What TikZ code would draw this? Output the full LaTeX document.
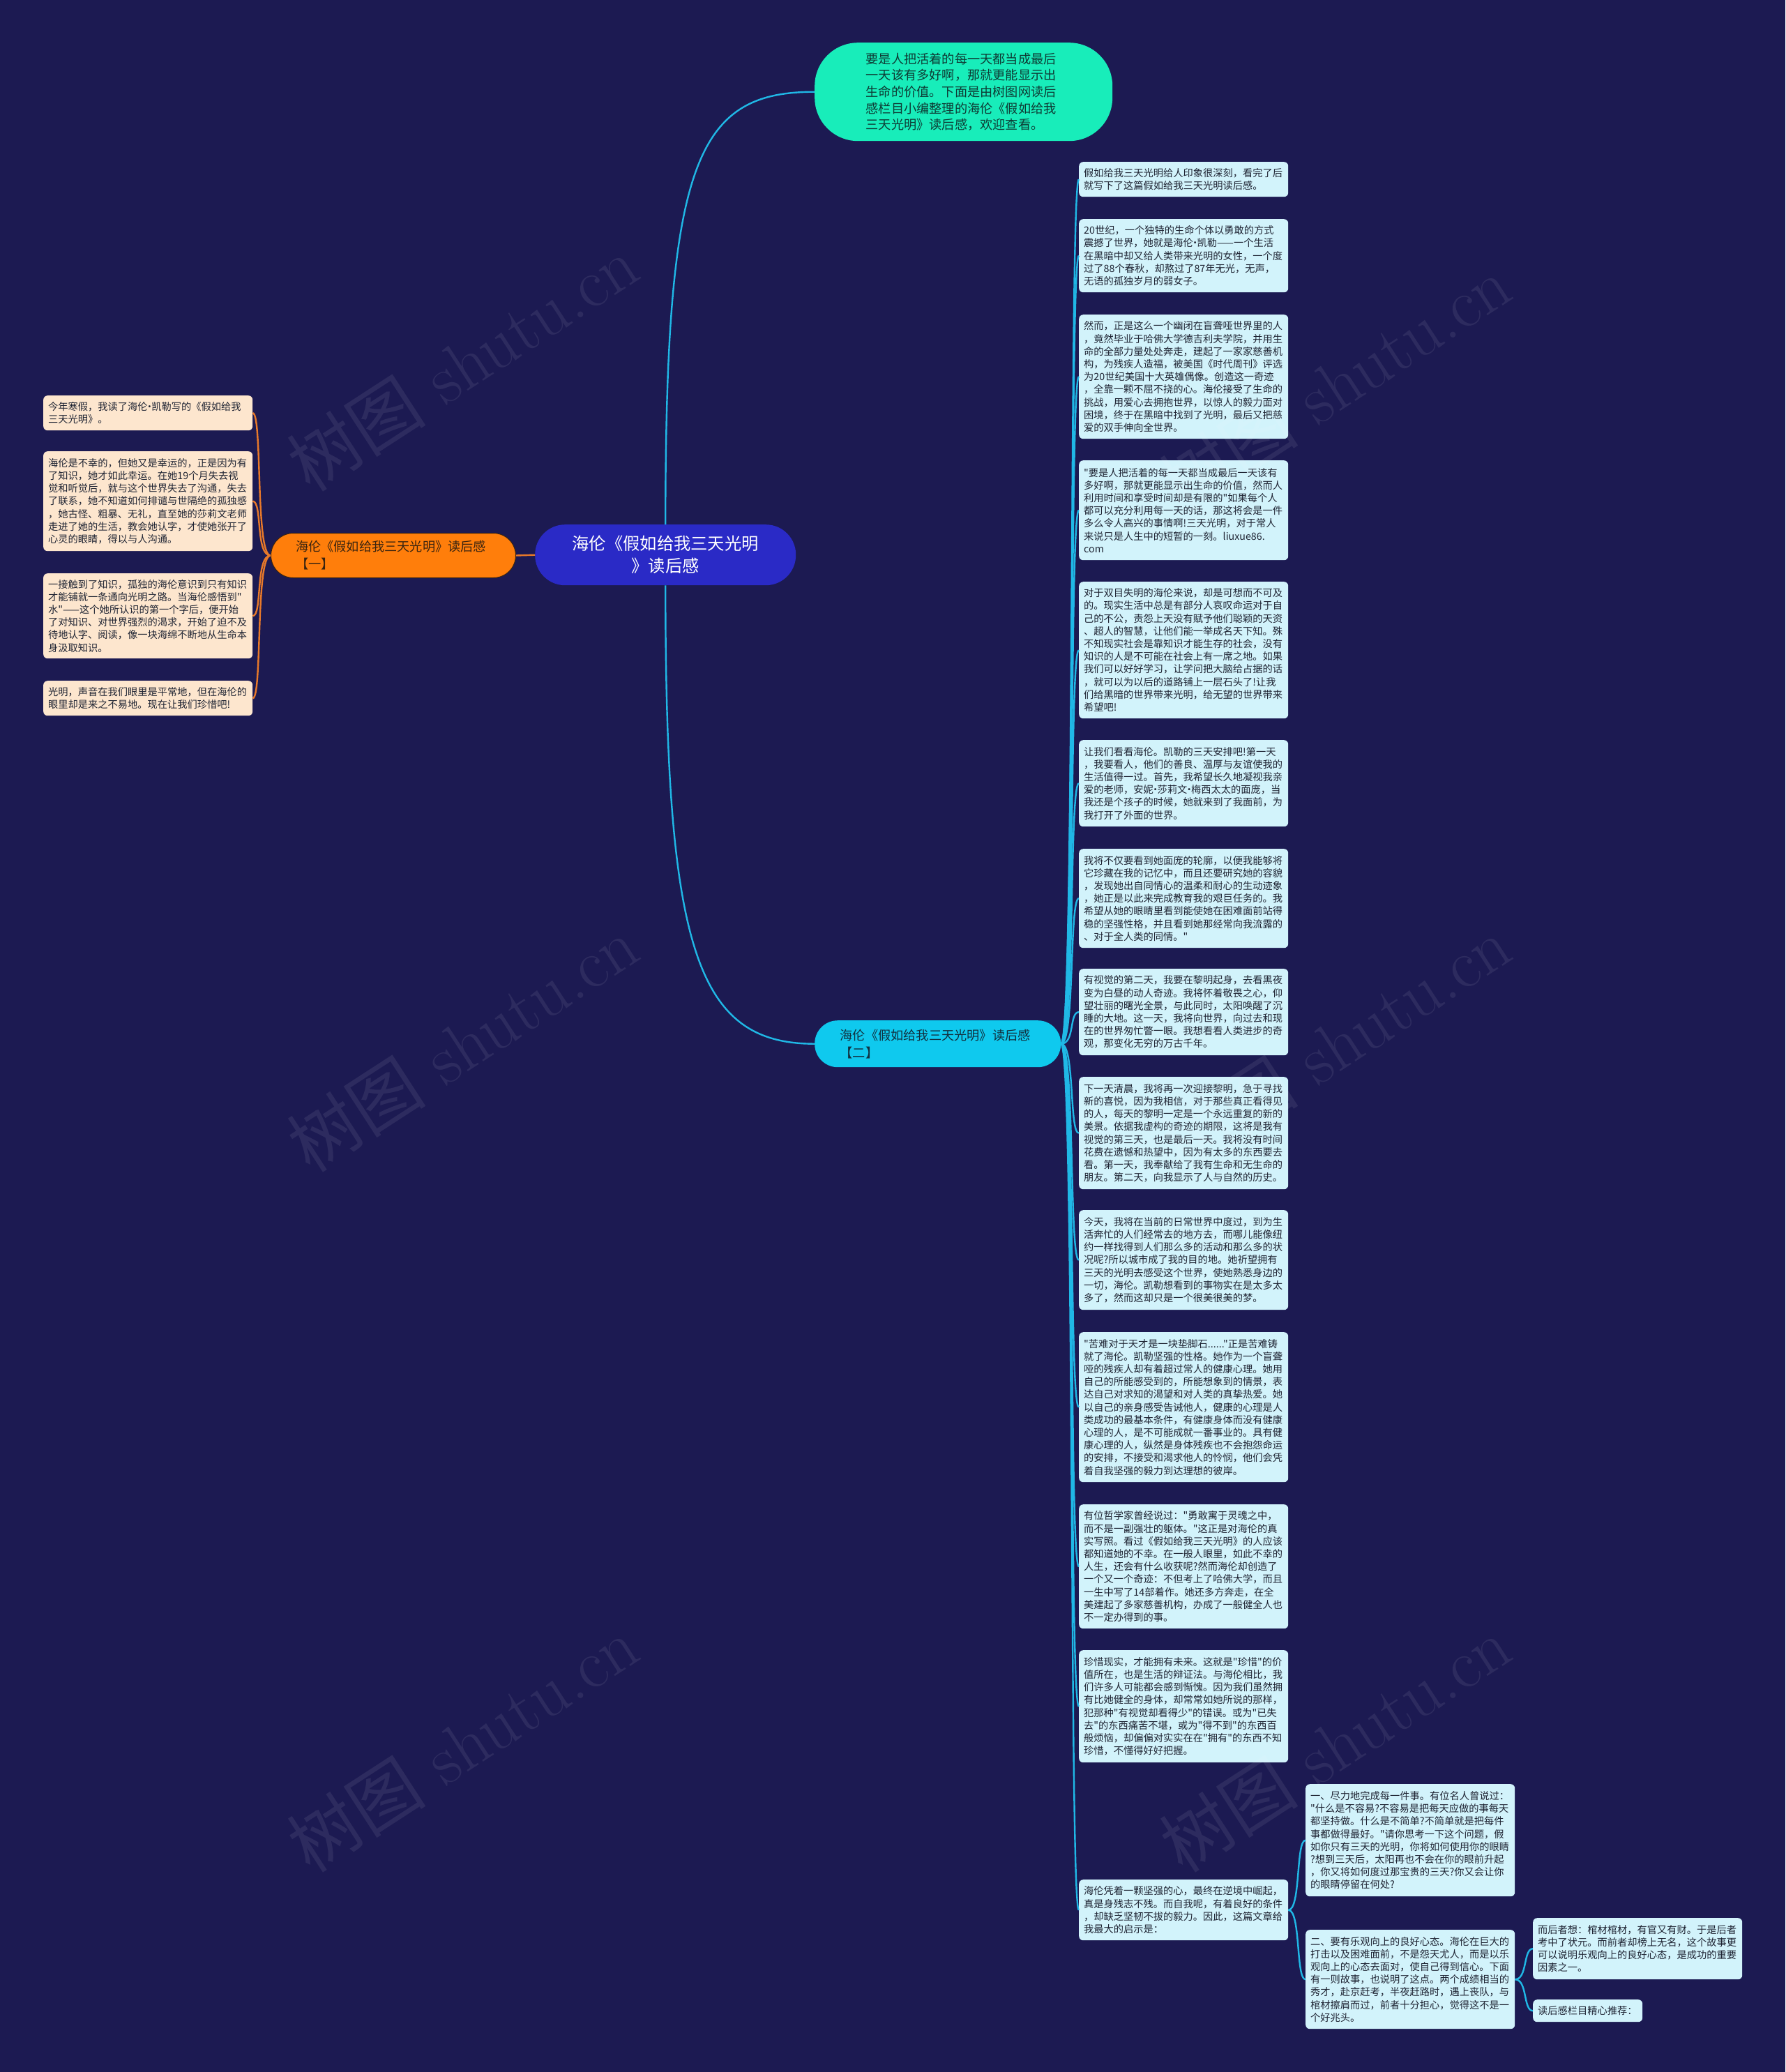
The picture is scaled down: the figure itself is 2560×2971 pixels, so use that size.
\documentclass[tikz,border=0pt]{standalone}
\usepackage{fontspec}
\newfontfamily\cjk{Noto Sans CJK SC}
\newcommand\mdot{\makebox[0.4em]{·}}
\definecolor{bg}{HTML}{1C1A52}
\definecolor{rfill}{HTML}{D2F3FB}
\definecolor{lfill}{HTML}{FDE6CE}
\definecolor{boxtext}{HTML}{1F2433}
\definecolor{linecyan}{HTML}{20B8E6}
\definecolor{lineorange}{HTML}{E8792A}
\definecolor{topfill}{HTML}{18EDBA}
\definecolor{toptext}{HTML}{0E3B34}
\definecolor{rootfill}{HTML}{2A2AC6}
\definecolor{orfill}{HTML}{FF7E0B}
\definecolor{ortext}{HTML}{3A2410}
\definecolor{cyfill}{HTML}{0FC9EE}
\definecolor{cytext}{HTML}{12303F}
\tikzset{
  rbox/.style={fill=rfill, rounded corners=6pt, anchor=north west, inner xsep=7pt, inner ysep=0pt,
    text width=286pt, align=left, text=boxtext, font=\cjk\fontsize{14.25}{18.2}\selectfont},
  lbox/.style={rbox, fill=lfill},
  cline/.style={draw=linecyan, line width=2.4pt},
  oline/.style={draw=lineorange, line width=2.4pt},
  wm/.style={text=white, opacity=0.08, font=\fontsize{100}{110}\selectfont, rotate=33},
}
\begin{document}
\begin{tikzpicture}[x=1pt,y=-1pt]
\useasboundingbox (0,0) rectangle (2560,2971);
\fill[bg] (0,0) rectangle (2560,2971);

% main nodes
\node[fill=topfill, rounded corners=62pt, anchor=north west, minimum width=427pt, minimum height=141pt,
  text width=280pt, align=left, text=toptext, font=\cjk\fontsize{18.2}{23.7}\selectfont, inner sep=0pt]
  (top) at (1168,61) {要是人把活着的每一天都当成最后\\一天该有多好啊，那就更能显示出\\生命的价值。下面是由树图网读后\\感栏目小编整理的海伦《假如给我\\三天光明》读后感，欢迎查看。};

\node[fill=rootfill, rounded corners=43pt, anchor=north west, minimum width=374pt, minimum height=87pt,
  align=center, text=white, font=\cjk\fontsize{24.3}{32}\selectfont, inner sep=0pt]
  (root) at (767,752) {海伦《假如给我三天光明\\》读后感};

\node[fill=orfill, draw=ortext, line width=1pt, rounded corners=32pt, anchor=north west, minimum width=351pt, minimum height=64pt,
  text width=280pt, align=left, text=ortext, font=\cjk\fontsize{18.2}{25}\selectfont, inner sep=0pt]
  (n1) at (388,764) {海伦《假如给我三天光明》读后感\\【一】};

\node[fill=cyfill, rounded corners=33pt, anchor=north west, minimum width=353pt, minimum height=67pt,
  text width=280pt, align=left, text=cytext, font=\cjk\fontsize{18.2}{25}\selectfont, inner sep=0pt]
  (n2) at (1168,1463) {海伦《假如给我三天光明》读后感\\【二】};

% left column
\node[lbox, minimum height=50pt] (l1) at (62,567) {今年寒假，我读了海伦\mdot 凯勒写的《假如给我\\三天光明》。};
\node[lbox, minimum height=143pt] (l2) at (62,647) {海伦是不幸的，但她又是幸运的，正是因为有\\了知识，她才如此幸运。在她19个月失去视\\觉和听觉后，就与这个世界失去了沟通，失去\\了联系，她不知道如何排谴与世隔绝的孤独感\\，她古怪、粗暴、无礼，直至她的莎莉文老师\\走进了她的生活，教会她认字，才使她张开了\\心灵的眼睛，得以与人沟通。};
\node[lbox, minimum height=122pt] (l3) at (62,822) {一接触到了知识，孤独的海伦意识到只有知识\\才能铺就一条通向光明之路。当海伦感悟到"\\水"——这个她所认识的第一个字后，便开始\\了对知识、对世界强烈的渴求，开始了迫不及\\待地认字、阅读，像一块海绵不断地从生命本\\身汲取知识。};
\node[lbox, minimum height=50pt] (l4) at (62,976) {光明，声音在我们眼里是平常地，但在海伦的\\眼里却是来之不易地。现在让我们珍惜吧!};

% right column
\node[rbox, minimum height=50pt] (r1) at (1547,232) {假如给我三天光明给人印象很深刻，看完了后\\就写下了这篇假如给我三天光明读后感。};
\node[rbox, minimum height=105pt] (r2) at (1547,314) {20世纪，一个独特的生命个体以勇敢的方式\\震撼了世界，她就是海伦\mdot 凯勒——一个生活\\在黑暗中却又给人类带来光明的女性，一个度\\过了88个春秋，却熬过了87年无光，无声，\\无语的孤独岁月的弱女子。};
\node[rbox, minimum height=178pt] (r3) at (1547,451) {然而，正是这么一个幽闭在盲聋哑世界里的人\\，竟然毕业于哈佛大学德吉利夫学院，并用生\\命的全部力量处处奔走，建起了一家家慈善机\\构，为残疾人造福，被美国《时代周刊》评选\\为20世纪美国十大英雄偶像。创造这一奇迹\\，全靠一颗不屈不挠的心。海伦接受了生命的\\挑战，用爱心去拥抱世界，以惊人的毅力面对\\困境，终于在黑暗中找到了光明，最后又把慈\\爱的双手伸向全世界。};
\node[rbox, minimum height=143pt] (r4) at (1547,660) {"要是人把活着的每一天都当成最后一天该有\\多好啊，那就更能显示出生命的价值，然而人\\利用时间和享受时间却是有限的"如果每个人\\都可以充分利用每一天的话，那这将会是一件\\多么令人高兴的事情啊!三天光明，对于常人\\来说只是人生中的短暂的一刻。liuxue86.\\com};
\node[rbox, minimum height=196pt] (r5) at (1547,834) {对于双目失明的海伦来说，却是可想而不可及\\的。现实生活中总是有部分人哀叹命运对于自\\己的不公，责怨上天没有赋予他们聪颖的天资\\、超人的智慧，让他们能一举成名天下知。殊\\不知现实社会是靠知识才能生存的社会，没有\\知识的人是不可能在社会上有一席之地。如果\\我们可以好好学习，让学问把大脑给占据的话\\，就可以为以后的道路铺上一层石头了!让我\\们给黑暗的世界带来光明，给无望的世界带来\\希望吧!};
\node[rbox, minimum height=124pt] (r6) at (1547,1061) {让我们看看海伦。凯勒的三天安排吧!第一天\\，我要看人，他们的善良、温厚与友谊使我的\\生活值得一过。首先，我希望长久地凝视我亲\\爱的老师，安妮\mdot 莎莉文\mdot 梅西太太的面庞，当\\我还是个孩子的时候，她就来到了我面前，为\\我打开了外面的世界。};
\node[rbox, minimum height=142pt] (r7) at (1547,1217) {我将不仅要看到她面庞的轮廓，以便我能够将\\它珍藏在我的记忆中，而且还要研究她的容貌\\，发现她出自同情心的温柔和耐心的生动迹象\\，她正是以此来完成教育我的艰巨任务的。我\\希望从她的眼睛里看到能使她在困难面前站得\\稳的坚强性格，并且看到她那经常向我流露的\\、对于全人类的同情。"};
\node[rbox, minimum height=124pt] (r8) at (1547,1389) {有视觉的第二天，我要在黎明起身，去看黑夜\\变为白昼的动人奇迹。我将怀着敬畏之心，仰\\望壮丽的曙光全景，与此同时，太阳唤醒了沉\\睡的大地。这一天，我将向世界，向过去和现\\在的世界匆忙瞥一眼。我想看看人类进步的奇\\观，那变化无穷的万古千年。};
\node[rbox, minimum height=161pt] (r9) at (1547,1544) {下一天清晨，我将再一次迎接黎明，急于寻找\\新的喜悦，因为我相信，对于那些真正看得见\\的人，每天的黎明一定是一个永远重复的新的\\美景。依据我虚构的奇迹的期限，这将是我有\\视觉的第三天，也是最后一天。我将没有时间\\花费在遗憾和热望中，因为有太多的东西要去\\看。第一天，我奉献给了我有生命和无生命的\\朋友。第二天，向我显示了人与自然的历史。};
\node[rbox, minimum height=143pt] (r10) at (1547,1735) {今天，我将在当前的日常世界中度过，到为生\\活奔忙的人们经常去的地方去，而哪儿能像纽\\约一样找得到人们那么多的活动和那么多的状\\况呢?所以城市成了我的目的地。她祈望拥有\\三天的光明去感受这个世界，使她熟悉身边的\\一切，海伦。凯勒想看到的事物实在是太多太\\多了，然而这却只是一个很美很美的梦。};
\node[rbox, minimum height=215pt] (r11) at (1547,1910) {"苦难对于天才是一块垫脚石......"正是苦难铸\\就了海伦。凯勒坚强的性格。她作为一个盲聋\\哑的残疾人却有着超过常人的健康心理。她用\\自己的所能感受到的，所能想象到的情景，表\\达自己对求知的渴望和对人类的真挚热爱。她\\以自己的亲身感受告诫他人，健康的心理是人\\类成功的最基本条件，有健康身体而没有健康\\心理的人，是不可能成就一番事业的。具有健\\康心理的人，纵然是身体残疾也不会抱怨命运\\的安排，不接受和渴求他人的怜悯，他们会凭\\着自我坚强的毅力到达理想的彼岸。};
\node[rbox, minimum height=178pt] (r12) at (1547,2157) {有位哲学家曾经说过："勇敢寓于灵魂之中，\\而不是一副强壮的躯体。"这正是对海伦的真\\实写照。看过《假如给我三天光明》的人应该\\都知道她的不幸。在一般人眼里，如此不幸的\\人生，还会有什么收获呢?然而海伦却创造了\\一个又一个奇迹：不但考上了哈佛大学，而且\\一生中写了14部着作。她还多方奔走，在全\\美建起了多家慈善机构，办成了一般健全人也\\不一定办得到的事。};
\node[rbox, minimum height=161pt] (r13) at (1547,2366) {珍惜现实，才能拥有未来。这就是"珍惜"的价\\值所在，也是生活的辩证法。与海伦相比，我\\们许多人可能都会感到惭愧。因为我们虽然拥\\有比她健全的身体，却常常如她所说的那样，\\犯那种"有视觉却看得少"的错误。或为"已失\\去"的东西痛苦不堪，或为"得不到"的东西百\\般烦恼，却偏偏对实实在在"拥有"的东西不知\\珍惜，不懂得好好把握。};
\node[rbox, minimum height=87pt] (r14) at (1547,2695) {海伦凭着一颗坚强的心，最终在逆境中崛起，\\真是身残志不残。而自我呢，有着良好的条件\\，却缺乏坚韧不拔的毅力。因此，这篇文章给\\我最大的启示是：};

\node[rbox, minimum height=161pt] (sa) at (1872,2558) {一、尽力地完成每一件事。有位名人曾说过：\\"什么是不容易?不容易是把每天应做的事每天\\都坚持做。什么是不简单?不简单就是把每件\\事都做得最好。"请你思考一下这个问题，假\\如你只有三天的光明，你将如何使用你的眼睛\\?想到三天后，太阳再也不会在你的眼前升起\\，你又将如何度过那宝贵的三天?你又会让你\\的眼睛停留在何处?};
\node[rbox, minimum height=142pt] (sb) at (1872,2767) {二、要有乐观向上的良好心态。海伦在巨大的\\打击以及困难面前，不是怨天尤人，而是以乐\\观向上的心态去面对，使自己得到信心。下面\\有一则故事，也说明了这点。两个成绩相当的\\秀才，赴京赶考，半夜赶路时，遇上丧队，与\\棺材擦肩而过，前者十分担心，觉得这不是一\\个好兆头。};
\node[rbox, minimum height=88pt] (b1) at (2198,2750) {而后者想：棺材棺材，有官又有财。于是后者\\考中了状元。而前者却榜上无名，这个故事更\\可以说明乐观向上的良好心态，是成功的重要\\因素之一。};
\node[rbox, minimum height=32pt, text width=143pt] (b2) at (2198,2867) {读后感栏目精心推荐：};

% connectors
\draw[cline] (root.north) .. controls +(0,-520) and +(-170,0) .. (top.west);
\draw[cline] (root.south) .. controls +(0,520) and +(-170,0) .. (n2.west);
\draw[oline] (root.west) -- (n1.east);
\foreach \c in {l1,l2,l3,l4}
  \draw[oline] (n1.west) .. controls +(-22,0) and +(14,0) .. (\c.east);
\foreach \c in {r1,r2,r3,r4,r5,r6,r7,r8,r9,r10,r11,r12,r13,r14}
  \draw[cline] (n2.east) .. controls +(20,0) and +(-14,0) .. (\c.west);
\foreach \c in {sa,sb}
  \draw[cline] (r14.east) .. controls +(18,0) and +(-14,0) .. (\c.west);
\foreach \c in {b1,b2}
  \draw[cline] (sb.east) .. controls +(18,0) and +(-14,0) .. (\c.west);

% watermarks
\foreach \p/\q in {663/521, 1914/550, 663/1497, 1914/1497, 663/2501, 1914/2501}
  \node[wm] at (\p,\q) {{\cjk 树图} shutu.cn};
\end{tikzpicture}
\end{document}
